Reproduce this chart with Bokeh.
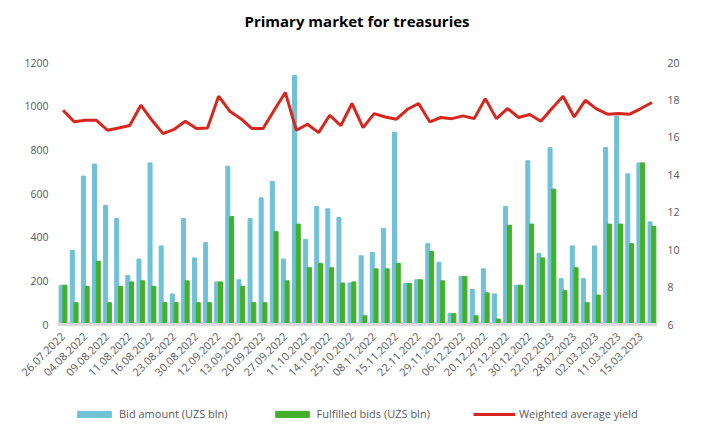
from bokeh.plotting import figure
from bokeh.models import Range1d, LinearAxis, FixedTicker, Legend, LegendItem, ColumnDataSource, Title
from bokeh.embed import file_html
from bokeh.resources import INLINE
from bokeh.core.properties import value

# ---- data ----
date_labels = [
    "26.07.2022", "", "04.08.2022", "", "09.08.2022", "", "11.08.2022", "",
    "16.08.2022", "", "23.08.2022", "", "30.08.2022", "", "12.09.2022", "",
    "13.09.2022", "", "20.09.2022", "", "27.09.2022", "", "11.10.2022", "",
    "14.10.2022", "", "25.10.2022", "", "08.11.2022", "", "15.11.2022", "",
    "22.11.2022", "", "29.11.2022", "", "06.12.2022", "", "20.12.2022", "",
    "27.12.2022", "", "30.12.2022", "", "22.02.2023", "", "28.02.2023", "",
    "02.03.2023", "", "11.03.2023", "", "15.03.2023", "",
]
bid_amount = [
    180, 340, 680, 735, 545, 485, 225, 300, 740, 360,
    140, 485, 305, 375, 195, 725, 205, 485, 580, 655,
    300, 1140, 390, 540, 530, 490, 190, 315, 330, 440,
    880, 188, 205, 370, 285, 50, 220, 160, 255, 140,
    540, 180, 750, 325, 810, 210, 360, 210, 360, 810,
    955, 690, 740, 470,
]
fulfilled_bids = [
    180, 100, 175, 290, 100, 175, 195, 200, 175, 100,
    100, 200, 100, 100, 195, 495, 175, 100, 100, 425,
    200, 460, 260, 280, 260, 190, 195, 40, 255, 255,
    280, 188, 205, 335, 200, 50, 220, 40, 145, 25,
    455, 180, 460, 305, 620, 155, 260, 100, 135, 460,
    460, 370, 740, 450,
]
weighted_yield = [
    17.45, 16.83, 16.91, 16.91, 16.38, 16.50, 16.63, 17.72, 16.91, 16.20,
    16.43, 16.86, 16.47, 16.50, 18.20, 17.40, 17.00, 16.47, 16.47, 17.45,
    18.40, 16.38, 16.70, 16.25, 17.18, 16.63, 17.81, 16.52, 17.27, 17.09,
    16.97, 17.50, 17.81, 16.83, 17.06, 17.00, 17.15, 17.00, 18.07, 17.00,
    17.54, 17.06, 17.22, 16.86, 17.54, 18.20, 17.09, 17.98, 17.52, 17.24,
    17.27, 17.24, 17.54, 17.86,
]
left_ticks = [0, 200, 400, 600, 800, 1000, 1200]
right_ticks = [6, 8, 10, 12, 14, 16, 18, 20]

n = len(bid_amount)
idx = list(range(n))
src = ColumnDataSource(dict(
    x=idx,
    xb=[i - 0.17 for i in idx],
    xf=[i + 0.17 for i in idx],
    bid=bid_amount,
    ful=fulfilled_bids,
    yld=weighted_yield,
))

FONT = "Open Sans"
TICK_COLOR = "#595959"

# Layout: the category area is 600 px wide and the value scale 262 px tall;
# the frame is extended left, up and down so that rotated date labels, the
# left value labels and the legend all lie inside it.
CAT_PX = 600
EXTRA_LEFT_PX = 47
AXIS_PX = 262
EXTRA_TOP_PX = 10
EXTRA_BOTTOM_PX = 107
FRAME_PX = AXIS_PX + EXTRA_TOP_PX + EXTRA_BOTTOM_PX
x_lo = -0.5 - EXTRA_LEFT_PX * n / CAT_PX
left_hi = 1200 + 1200 * EXTRA_TOP_PX / AXIS_PX
left_lo = 0 - 1200 * EXTRA_BOTTOM_PX / AXIS_PX
right_hi = 20 + 14 * EXTRA_TOP_PX / AXIS_PX
right_lo = 6 - 14 * EXTRA_BOTTOM_PX / AXIS_PX

p = figure(
    frame_width=CAT_PX + EXTRA_LEFT_PX, frame_height=FRAME_PX,
    min_border_left=10, min_border_right=57, min_border_top=62 - EXTRA_TOP_PX, min_border_bottom=0,
    x_range=Range1d(x_lo, n - 0.5), y_range=Range1d(left_lo, left_hi),
    y_axis_location=None,
    output_backend="svg", toolbar_location=None,
    title=None,
)
p.extra_y_ranges = {"yld": Range1d(right_lo, right_hi)}

spacer = Title(text=" ", standoff=0, text_font=FONT, text_font_size="15px")
main_title = Title(text="Primary market for treasuries", align="left", offset=234, standoff=0,
                   text_font=FONT, text_font_size="15px", text_font_style="bold",
                   text_color="#000000")
p.add_layout(spacer, "above")
p.add_layout(main_title, "above")

p.outline_line_color = None
p.xgrid.visible = False
p.ygrid.visible = False
p.background_fill_color = "white"
p.border_fill_color = "white"

r_bid = p.vbar(x="xb", top="bid", bottom=0, width=0.36, source=src, color="#70C1D6")
r_ful = p.vbar(x="xf", top="ful", bottom=0, width=0.36, source=src, color="#43B02A")
r_yld = p.line(x="x", y="yld", source=src, y_range_name="yld", line_color="#D7261E", line_width=3)

# left value labels, placed through the plot's scales
p.text(x=[-0.5] * len(left_ticks), y=left_ticks, text=[str(t) for t in left_ticks],
       x_offset=-9, text_align="right", text_baseline="middle",
       text_font=value(FONT), text_font_size="10.5px", text_color=TICK_COLOR)

# x axis drawn at the zero line
xa = p.xaxis[0]
xa.fixed_location = 0
xa.bounds = (-0.5, n - 0.5)
xa.ticker = FixedTicker(ticks=list(range(0, n, 2)))
xa.major_label_overrides = {i: date_labels[i] for i in range(n)}
xa.major_label_orientation = 0.785398
xa.axis_line_color = "#d9d9d9"
xa.axis_line_width = 3
xa.major_tick_line_color = None
xa.minor_tick_line_color = None
xa.major_tick_out = 0
xa.minor_tick_out = 0
xa.major_label_standoff = 10
xa.major_label_text_font = FONT
xa.major_label_text_font_size = "11px"
xa.major_label_text_color = TICK_COLOR

# right axis
ra = LinearAxis(y_range_name="yld", ticker=FixedTicker(ticks=right_ticks))
ra.axis_line_color = None
ra.major_tick_line_color = None
ra.minor_tick_line_color = None
ra.major_tick_out = 0
ra.minor_tick_out = 0
ra.major_label_standoff = 10
ra.major_label_text_font = FONT
ra.major_label_text_font_size = "10.5px"
ra.major_label_text_color = TICK_COLOR
p.add_layout(ra, "right")

legend = Legend(
    items=[
        LegendItem(label="Bid amount (UZS bln)", renderers=[r_bid]),
        LegendItem(label="Fulfilled bids (UZS bln)", renderers=[r_ful]),
        LegendItem(label="Weighted average yield", renderers=[r_yld]),
    ],
    orientation="horizontal",
    location=(63, 10),
    glyph_width=42, glyph_height=8,
    label_standoff=4, spacing=43,
    label_text_font=FONT, label_text_font_size="11px", label_text_color=TICK_COLOR,
    border_line_color=None, background_fill_alpha=0,
    margin=0, padding=4,
)
p.add_layout(legend, "center")

open("out.html", "w").write(file_html(p, INLINE))
